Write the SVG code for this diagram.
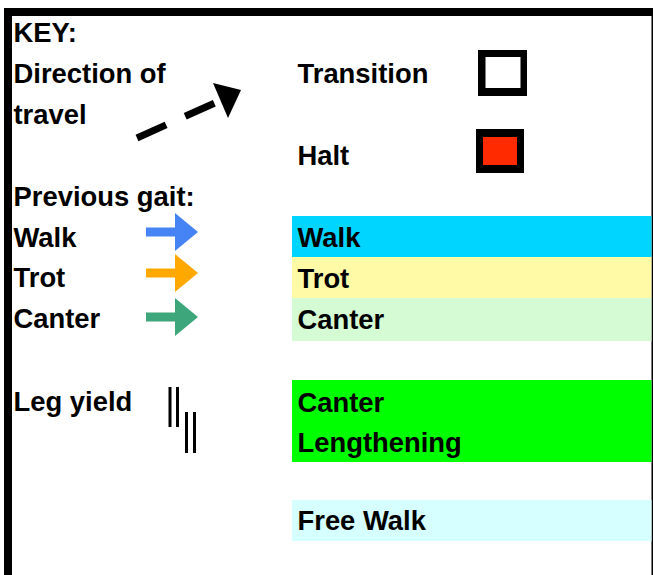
<svg xmlns="http://www.w3.org/2000/svg" width="653" height="575" viewBox="0 0 653 575">
  <style>
    text { font-family: "Liberation Sans", Arial, sans-serif; font-weight: bold; font-size: 27.4px; fill: #000; }
    .bar { fill: #000; }
    .ly { stroke: #000; stroke-width: 3; }
    .dash { stroke: #000; stroke-width: 7; stroke-linecap: butt; }
  </style>
  <rect width="653" height="575" fill="#fff"/>

  <g id="frame">
    <rect class="bar" x="4" y="8" width="649" height="8"/>
    <rect class="bar" x="4" y="8" width="8" height="567"/>
    <rect class="bar" x="651.5" y="16" width="1.5" height="559"/>
  </g>

  <g id="key-title"><text x="13.5" y="42">KEY:</text></g>

  <g id="direction">
    <text x="13.5" y="83">Direction of</text>
    <text x="13.5" y="124">travel</text>
  </g>

  <g id="connectors">
    <g id="direction-arrow">
      <line class="dash" x1="137" y1="138" x2="166.1" y2="124.9"/>
      <line class="dash" x1="185.2" y1="116.3" x2="214.3" y2="103.2"/>
      <polygon points="213,83 241,90 228,118" fill="#000"/>
    </g>
    <g id="walk-arrow" fill="#4683f5">
      <rect x="146" y="227.5" width="30" height="9"/>
      <polygon points="175,213 198,232 175,251"/>
    </g>
    <g id="trot-arrow" fill="#ffa800">
      <rect x="146" y="268.5" width="30" height="9"/>
      <polygon points="175,254 198,273 175,292"/>
    </g>
    <g id="canter-arrow" fill="#3ea67b">
      <rect x="146" y="312.5" width="30" height="9"/>
      <polygon points="175,298 198,317 175,336"/>
    </g>
  </g>

  <g id="transition">
    <text x="297.5" y="83">Transition</text>
    <rect x="478" y="50" width="49" height="46" fill="#000"/>
    <rect x="485.5" y="57" width="35" height="31" fill="#fff"/>
  </g>

  <g id="halt">
    <text x="297.5" y="165">Halt</text>
    <rect x="476" y="129" width="48" height="44" fill="#000"/>
    <rect x="483" y="137" width="34" height="28" fill="#ff2a00"/>
  </g>

  <g id="previous-gait"><text x="13.5" y="206">Previous gait:</text></g>
  <g id="walk-label"><text x="13.5" y="247">Walk</text></g>
  <g id="trot-label"><text x="13.5" y="287">Trot</text></g>
  <g id="canter-label"><text x="13.5" y="328">Canter</text></g>

  <g id="leg-yield">
    <text x="13.5" y="411">Leg yield</text>
    <line class="ly" x1="170" y1="387" x2="170" y2="427"/>
    <line class="ly" x1="177.5" y1="387" x2="177.5" y2="427"/>
    <line class="ly" x1="186.5" y1="412" x2="186.5" y2="453"/>
    <line class="ly" x1="194.5" y1="412" x2="194.5" y2="453"/>
  </g>

  <g id="band-walk">
    <rect x="292" y="216" width="359.5" height="41" fill="#00d5ff"/>
    <text x="297.5" y="247">Walk</text>
  </g>
  <g id="band-trot">
    <rect x="292" y="257" width="359.5" height="41" fill="#fffaa6"/>
    <text x="297.5" y="288">Trot</text>
  </g>
  <g id="band-canter">
    <rect x="292" y="298" width="359.5" height="43" fill="#d4fbd4"/>
    <text x="297.5" y="329">Canter</text>
  </g>
  <g id="band-canter-lengthening">
    <rect x="292" y="380" width="359.5" height="82" fill="#00ff00"/>
    <text x="297.5" y="412">Canter</text>
    <text x="297.5" y="452">Lengthening</text>
  </g>
  <g id="band-free-walk">
    <rect x="292" y="500" width="359.5" height="41" fill="#d6ffff"/>
    <text x="297.5" y="530">Free Walk</text>
  </g>
</svg>
